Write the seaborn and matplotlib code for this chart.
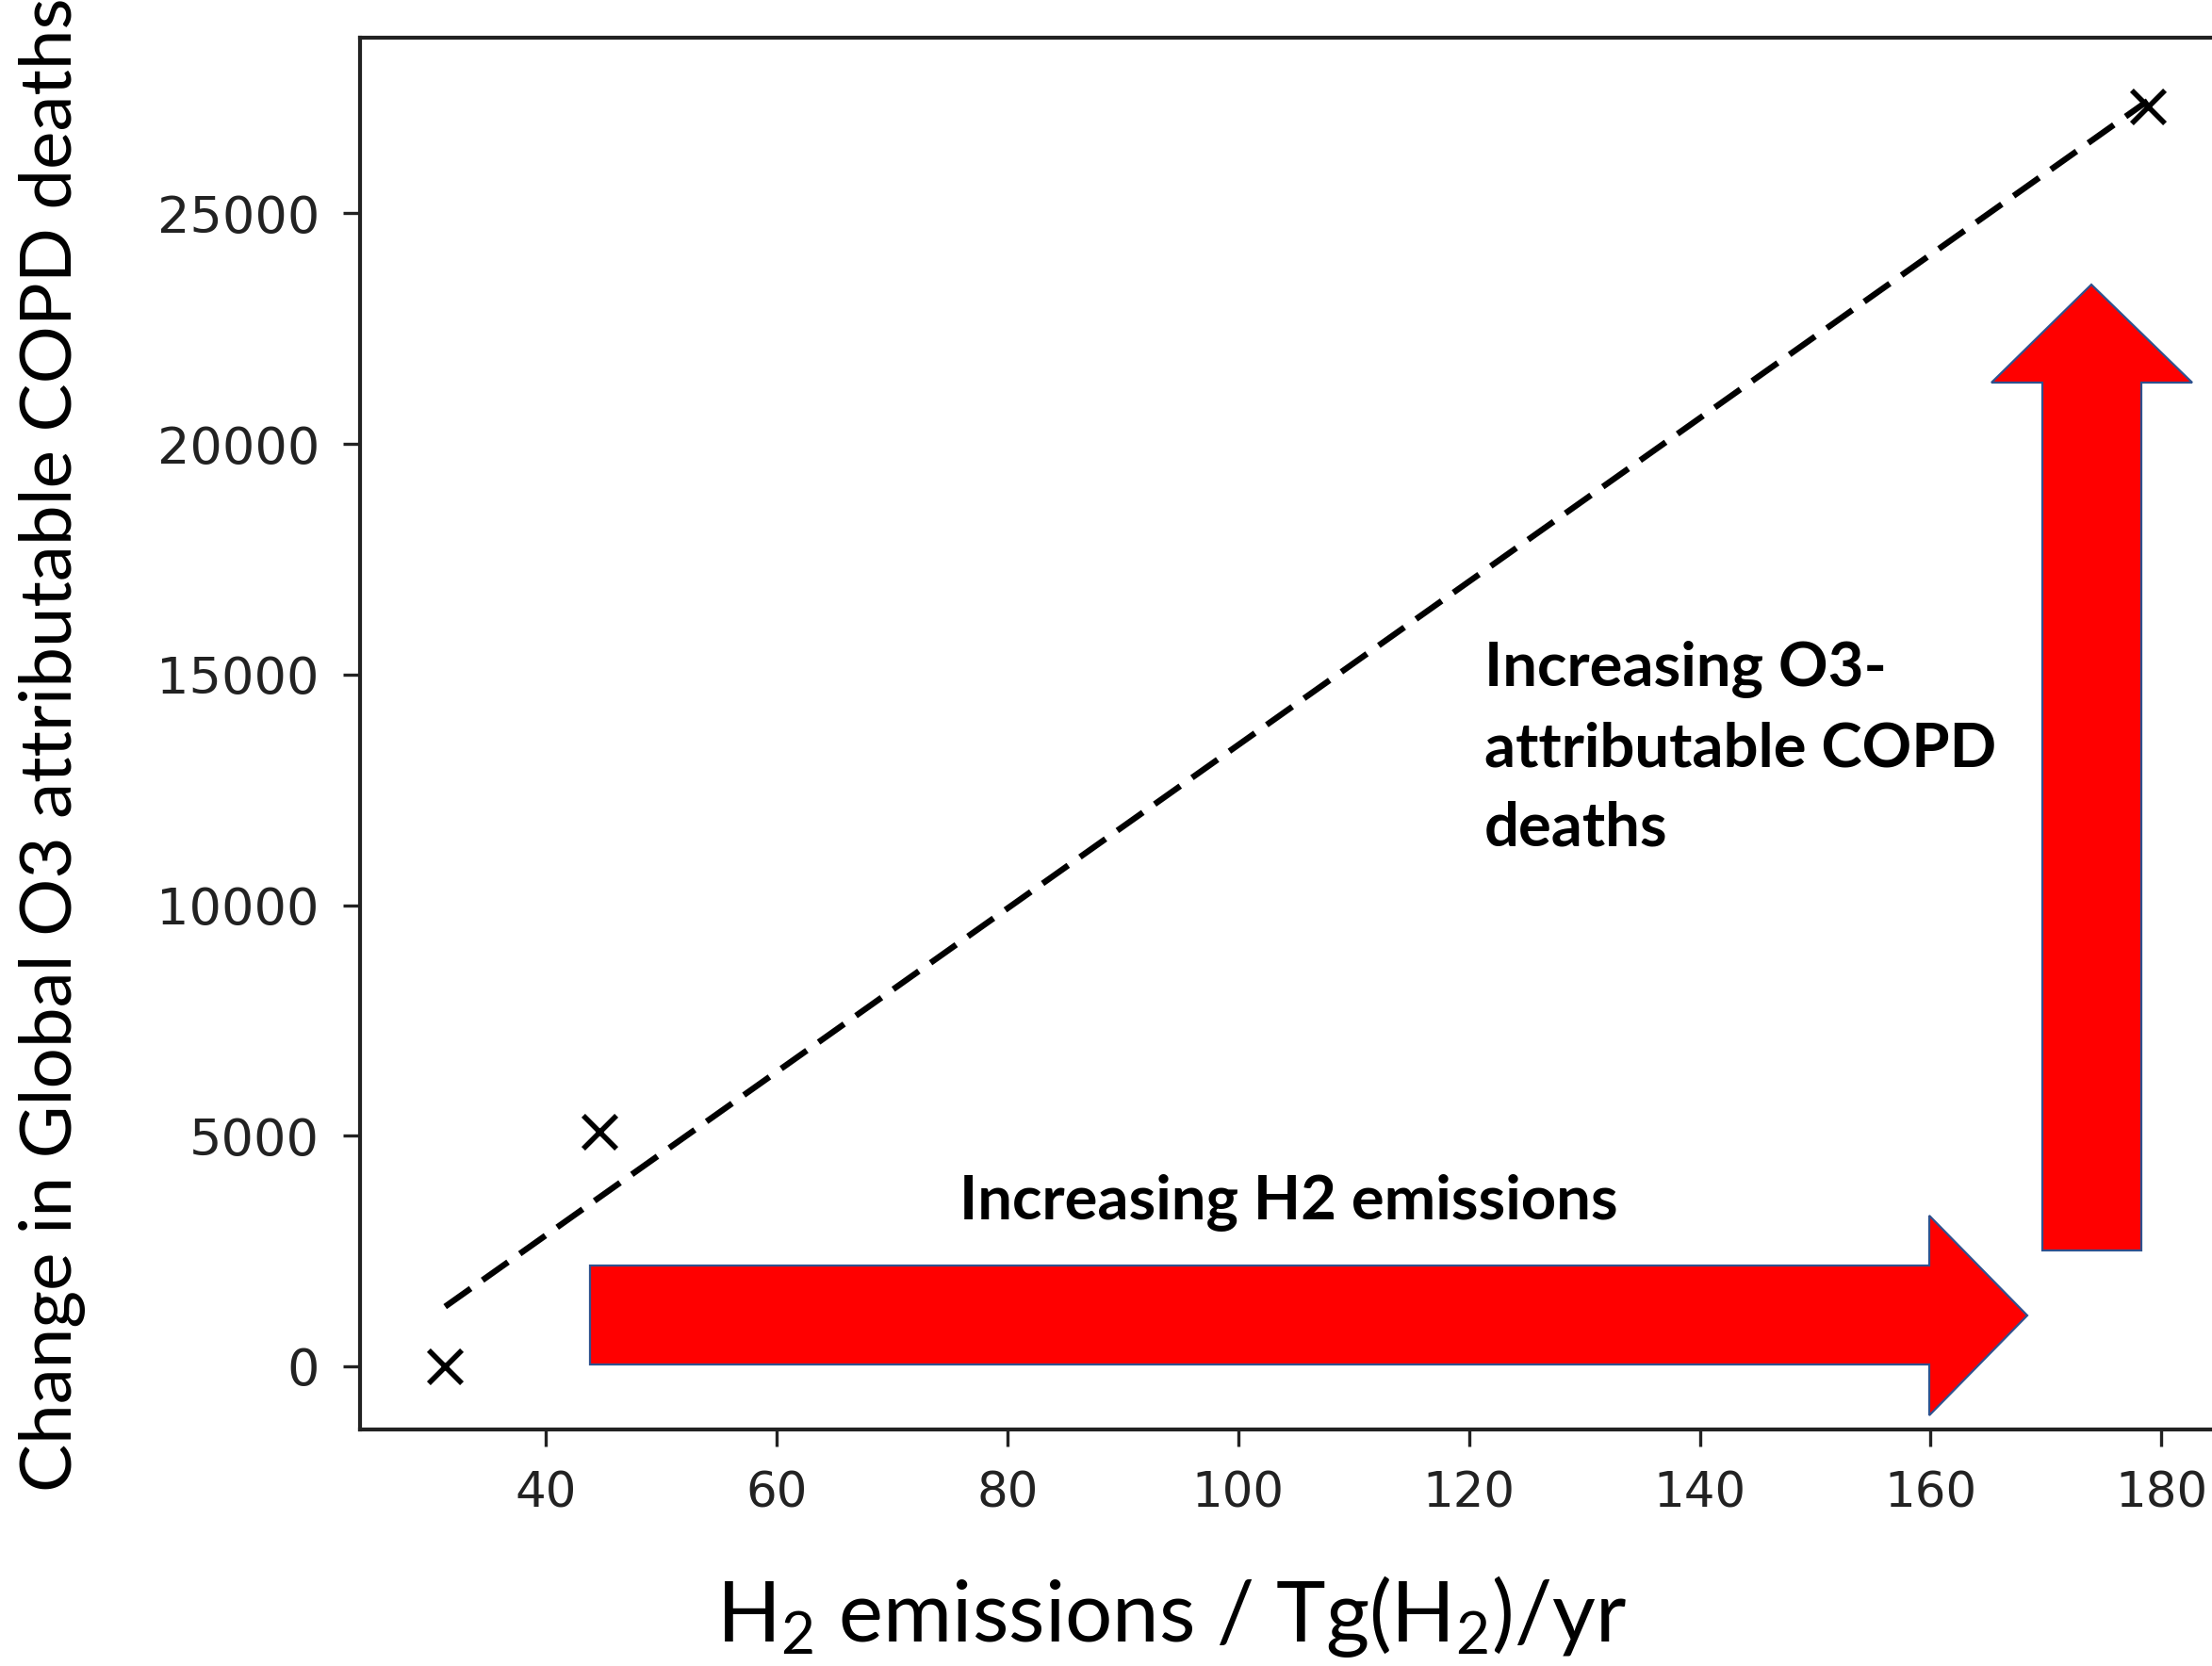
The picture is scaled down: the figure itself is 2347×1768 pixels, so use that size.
import numpy as np
import pandas as pd
import matplotlib
matplotlib.use("Agg")
import matplotlib.pyplot as plt
from matplotlib.patches import Polygon
import seaborn as sns

# Model runs: H2 emissions vs change in global O3-attributable COPD deaths
h2_emissions = [31.3, 44.7, 178.8]
copd_deaths_change = [0, 5090, 27310]

y_ticks = [0, 5000, 10000, 15000, 20000, 25000]
x_ticks = [40, 60, 80, 100, 120, 140, 160, 180]

df = pd.DataFrame({"h2": h2_emissions, "deaths": copd_deaths_change})

sns.set_theme(style="ticks")
plt.rcParams["font.family"] = ["DejaVu Sans"]
plt.rcParams["mathtext.fontset"] = "custom"
plt.rcParams["mathtext.rm"] = "Lato"
plt.rcParams["mathtext.it"] = "Lato:italic"
plt.rcParams["mathtext.bf"] = "Lato:bold"

W, H = 2347, 1768
DPI = 100
fig = plt.figure(figsize=(W / DPI, H / DPI), dpi=DPI, facecolor="white")

# axes frame in pixel terms (left, bottom from top-left origin)
ax_left, ax_top, ax_bottom = 382, 40, 1517
ax_width = 1987
ax = fig.add_axes([ax_left / W, (H - ax_bottom) / H, ax_width / W, (ax_bottom - ax_top) / H])
ax.set_facecolor("white")

# linear fit through the runs
sns.regplot(data=df, x="h2", y="deaths", ax=ax, scatter=False, ci=None,
            line_kws=dict(color="black", lw=4.6, dashes=(5.2, 2.4)))
sns.scatterplot(data=df, x="h2", y="deaths", ax=ax, marker="x", s=640,
                color="black", linewidth=4.0, zorder=3)

ax.set_xticks(x_ticks)
ax.set_yticks(y_ticks)
ax.set_xlabel("")
ax.set_ylabel("")
ax.tick_params(axis="both", length=13, width=2.4, color="#222222", direction="out")
ax.tick_params(axis="y", labelsize=39, pad=18, labelcolor="#222222")
ax.tick_params(axis="x", labelsize=37, pad=18, labelcolor="#222222")
for side in ["left", "right", "top", "bottom"]:
    ax.spines[side].set_visible(True)
    ax.spines[side].set_linewidth(3.0)
    ax.spines[side].set_color("#222222")
ax.grid(False)


def px(x, y):
    """Pixel position (from top-left) to figure fraction."""
    return (x / W, (H - y) / H)


arrow_style = dict(closed=True, facecolor="#FF0000", edgecolor="#2F528F",
                   linewidth=1.6, transform=fig.transFigure, zorder=5)

# horizontal block arrow
h_arrow = [px(626, 1343), px(2047, 1343), px(2047, 1290), px(2151, 1396),
           px(2047, 1502), px(2047, 1448), px(626, 1448)]
fig.patches.append(Polygon(h_arrow, **arrow_style))

# vertical block arrow
v_arrow = [px(2167, 1327), px(2167, 406), px(2113, 406), px(2219, 302),
           px(2326, 406), px(2272, 406), px(2272, 1327)]
fig.patches.append(Polygon(v_arrow, **arrow_style))

label_font = ["Lato", "DejaVu Sans"]

fig.text(*px(1018, 1294), "Increasing H2 emissions", family=label_font,
         fontweight="bold", fontsize=47, ha="left", va="baseline", color="black")

for line, base in zip(["Increasing O3-", "attributable COPD", "deaths"], [728, 813, 897]):
    fig.text(*px(1575, base), line, family=label_font, fontweight="bold",
             fontsize=47, ha="left", va="baseline", color="black")

fig.text(*px(1243, 1742), r"$\mathregular{H_2}$ emissions / Tg($\mathregular{H_2}$)/yr",
         family=label_font, fontsize=64, ha="center", va="baseline", color="black")

fig.text(*px(20, 790), "Change in Global O3 attributable COPD deaths",
         family=label_font, fontsize=55, rotation=90, ha="left", va="center",
         color="black")

fig.savefig("out.png", dpi=DPI, facecolor="white")
